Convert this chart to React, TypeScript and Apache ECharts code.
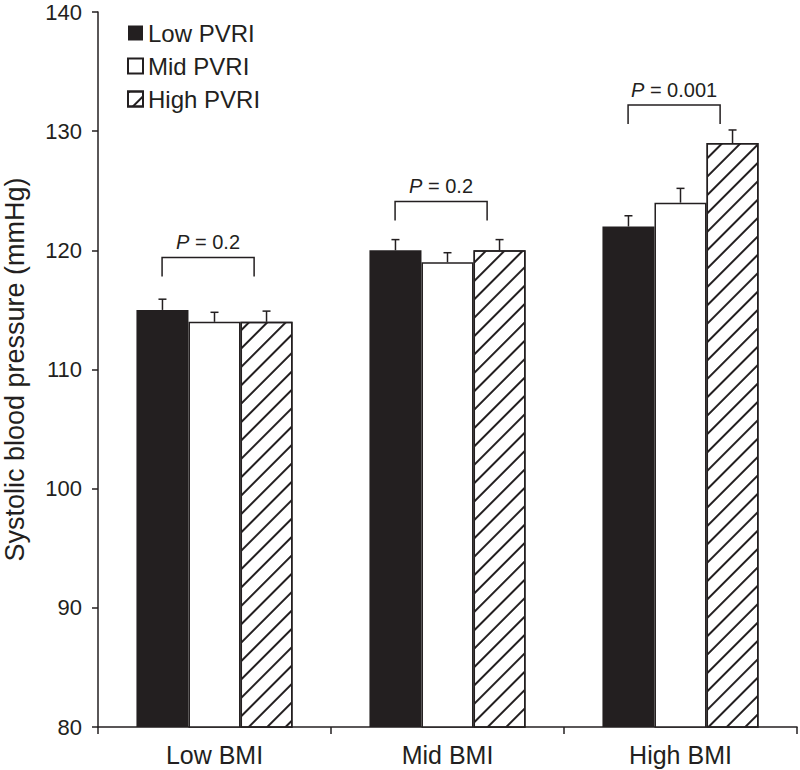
import React, { useEffect, useRef } from "react";
import * as echarts from "echarts";

const categories = ["Low BMI", "Mid BMI", "High BMI"];
const seriesNames = ["Low PVRI", "Mid PVRI", "High PVRI"];
const lowPvri = [115, 120, 122];
const midPvri = [114, 119, 124];
const highPvri = [114, 120, 129];
const lowErr = [0.9, 0.9, 0.9];
const midErr = [0.8, 0.8, 1.2];
const highErr = [0.9, 0.9, 1.1];
const pValues = ["0.2", "0.2", "0.001"];
const bracketTop = [119.4, 124.1, 132.2];
const yTicks = { min: 80, max: 140, interval: 10 };

const FONT = "'Liberation Sans', Arial, Helvetica, sans-serif";
const INK = "#231f20";
const GAP = 0.33;

export default function App() {
  const ref = useRef<HTMLDivElement>(null);
  useEffect(() => {
    if (!ref.current) return;
    const chart = echarts.init(ref.current, undefined, { renderer: "svg" });

    const values = [lowPvri, midPvri, highPvri];
    const errs = [lowErr, midErr, highErr];

    const hatch = {
      symbol: "rect",
      symbolSize: 1,
      dashArrayX: [1, 0],
      dashArrayY: [1.4, 10.4],
      rotation: -Math.PI / 4,
      color: INK,
      backgroundColor: "#fff",
    };

    const barStyles = [
      { color: INK, borderColor: INK, borderWidth: 0 },
      { color: "#fff", borderColor: INK, borderWidth: 1.5 },
      { color: "#fff", borderColor: INK, borderWidth: 1.5, decal: hatch },
    ];

    const barSeries = seriesNames.map((name, s) => ({
      name,
      type: "bar",
      data: values[s],
      barGap: "0%",
      barCategoryGap: GAP * 100 + "%",
      itemStyle: barStyles[s],
      z: 2,
    }));

    const errSeries = seriesNames.map((name, s) => ({
      name: name + " error",
      type: "custom",
      z: 3,
      data: values[s].map((v, i) => [i, v, errs[s][i]]),
      encode: { x: 0, y: 1 },
      renderItem: (params: any, api: any) => {
        const base = api.coord([api.value(0), api.value(1)]);
        const top = api.coord([api.value(0), api.value(1) + api.value(2)]);
        const bw = api.size([1, 0])[0];
        const barW = (bw * (1 - GAP)) / 3;
        const cx = base[0] + (s - 1) * barW;
        const st = { stroke: INK, lineWidth: 1.5 };
        return {
          type: "group",
          children: [
            { type: "line", shape: { x1: cx, y1: base[1], x2: cx, y2: top[1] }, style: st },
            { type: "line", shape: { x1: cx - 4, y1: top[1], x2: cx + 4, y2: top[1] }, style: st },
          ],
        };
      },
    }));

    const bracketSeries = {
      name: "brackets",
      type: "custom",
      z: 4,
      data: bracketTop.map((v, i) => [i, v]),
      encode: { x: 0, y: 1 },
      renderItem: (params: any, api: any) => {
        const idx = params.dataIndex;
        const p = api.coord([api.value(0), api.value(1)]);
        const bw = api.size([1, 0])[0];
        const l = p[0] - 0.225 * bw;
        const r = p[0] + 0.17 * bw;
        const y = p[1];
        return {
          type: "group",
          children: [
            {
              type: "polyline",
              shape: { points: [[l, y + 19], [l, y], [r, y], [r, y + 19]] },
              style: { stroke: INK, lineWidth: 1.5, fill: "none" },
            },
            {
              type: "text",
              style: {
                x: (l + r) / 2,
                y: y - 5,
                text: "{i|P}{n| = " + pValues[idx] + "}",
                align: "center",
                verticalAlign: "bottom",
                fontSize: 20,
                fontFamily: FONT,
                fill: INK,
                rich: {
                  i: { fontStyle: "italic", fontSize: 20, fontFamily: FONT, fill: INK },
                  n: { fontSize: 20, fontFamily: FONT, fill: INK },
                },
              },
            },
          ],
        };
      },
    };

    chart.setOption({
      animation: false,
      backgroundColor: "#fff",
      grid: {
        left: 98,
        right: 3,
        top: 12,
        bottom: 43,
        containLabel: false,
        outerBoundsMode: "none",
      },
      legend: {
        data: seriesNames,
        orient: "vertical",
        left: 122,
        top: 16,
        itemWidth: 15,
        itemHeight: 15,
        itemGap: 9,
        icon: "rect",
        textStyle: { fontSize: 24, fontFamily: FONT, color: INK },
        selectedMode: false,
      },
      xAxis: {
        type: "category",
        data: categories,
        axisLine: { lineStyle: { color: INK, width: 1.5 } },
        axisTick: { show: true, length: 7, lineStyle: { color: INK, width: 1.5 } },
        axisLabel: { fontSize: 25, fontFamily: FONT, color: INK, margin: 15 },
      },
      yAxis: {
        type: "value",
        min: yTicks.min,
        max: yTicks.max,
        interval: yTicks.interval,
        name: "Systolic blood pressure (mmHg)",
        nameLocation: "middle",
        nameGap: 70,
        nameTextStyle: { fontSize: 27, lineHeight: 27, fontFamily: FONT, color: INK },
        axisLine: { show: true, lineStyle: { color: INK, width: 1.5 } },
        axisTick: { show: true, length: 6, lineStyle: { color: INK, width: 1.5 } },
        axisLabel: { fontSize: 22, lineHeight: 22, fontFamily: FONT, color: INK, margin: 16 },
        splitLine: { show: false },
      },
      series: [...barSeries, ...errSeries, bracketSeries],
    });

    return () => chart.dispose();
  }, []);

  return (
    <div
      ref={ref}
      style={{ position: "absolute", left: 0, top: 0, width: 800, height: 770 }}
    />
  );
}
